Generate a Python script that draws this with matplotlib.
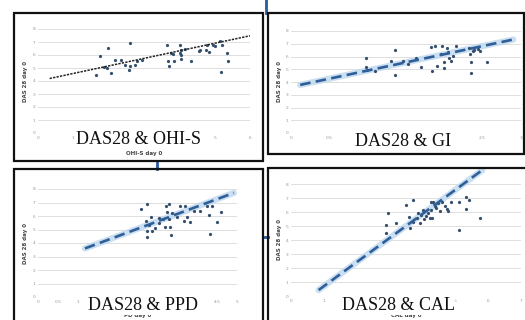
import numpy as np
import matplotlib
matplotlib.use("Agg")
import matplotlib.pyplot as plt
from matplotlib.patches import Rectangle
from matplotlib.lines import Line2D

# ---- data ----
ohi_x = [1.65, 1.75, 1.86, 1.96, 1.98, 2.06, 2.17, 2.34, 2.45, 2.59, 2.57, 2.59, 2.74, 2.79,
         2.93, 3.66, 3.69, 3.71, 3.76, 3.83, 3.86, 4.02, 4.02, 4.05, 4.06, 4.16, 4.06, 4.33,
         4.56, 4.58, 4.75, 4.79, 4.84, 4.96, 5.0, 5.15, 5.17, 5.2, 5.34, 5.37]
ohi_y = [4.46, 5.94, 5.1, 4.98, 6.53, 4.6, 5.63, 5.63, 5.24, 6.92, 4.85, 5.16, 5.24, 5.55,
         5.63, 6.8, 5.57, 5.16, 6.19, 6.06, 5.57, 6.8, 6.14, 5.68, 6.4, 6.45, 6.0, 5.55,
         6.27, 6.4, 6.4, 6.8, 6.22, 6.8, 6.66, 7.05, 4.72, 6.8, 6.14, 5.55]

gi_x = [0.98, 0.98, 0.995, 1.1, 1.31, 1.35, 1.35, 1.46, 1.53, 1.63, 1.7, 1.82, 1.84, 1.88,
        1.9, 1.95, 1.97, 2.0, 2.0, 2.03, 2.05, 2.06, 2.09, 2.11, 2.15, 2.32, 2.34, 2.35,
        2.35, 2.39, 2.44, 2.46, 2.56, 2.37]
gi_y = [5.88, 5.15, 4.96, 4.88, 5.62, 6.49, 4.56, 5.62, 5.44, 5.88, 5.15, 6.73, 4.83, 6.86,
        5.22, 6.2, 6.86, 5.09, 5.54, 6.68, 6.33, 5.88, 5.62, 6.02, 6.8, 6.68, 6.23, 5.54,
        4.7, 6.54, 6.6, 6.41, 5.54, 6.41]

ppd_x = [2.6, 2.73, 2.71, 2.73, 2.73, 2.8, 2.83, 2.86, 2.94, 3.03, 3.05, 3.15, 3.19, 3.21,
         3.24, 3.28, 3.28, 3.32, 3.34, 3.36, 3.49, 3.57, 3.7, 3.68, 3.74, 3.81, 4.08, 4.24,
         4.29, 4.31, 4.37, 4.5, 4.6, 3.91]
ppd_y = [6.51, 6.9, 5.64, 4.89, 4.47, 5.34, 5.91, 4.92, 5.09, 5.84, 5.47, 5.76, 5.22, 6.71,
         6.26, 6.9, 5.76, 5.22, 4.6, 6.21, 5.96, 6.71, 6.71, 5.66, 5.96, 5.52, 6.34, 6.71,
         6.09, 4.67, 6.71, 5.52, 6.29, 6.34]

cal_x = [2.89, 2.89, 2.96, 3.19, 3.49, 3.7, 3.6, 3.62, 3.72, 3.82, 3.87, 3.92, 3.97, 4.02,
         4.05, 4.12, 4.17, 4.22, 4.27, 4.32, 4.27, 4.3, 4.37, 4.42, 4.47, 4.53, 4.6, 4.68,
         4.76, 4.78, 4.88, 5.11, 5.11, 5.33, 5.33, 5.43, 5.74]
cal_y = [5.08, 4.49, 5.92, 5.25, 6.52, 6.87, 5.63, 4.84, 5.32, 5.56, 5.92, 5.2, 5.8, 6.16,
         5.49, 5.68, 5.92, 5.56, 6.75, 6.75, 6.16, 5.56, 6.44, 6.28, 6.63, 6.04, 6.68, 6.44,
         6.21, 6.04, 6.68, 6.68, 4.73, 7.04, 6.21, 6.87, 5.56]

# trendlines: (x start, x end, intercept, slope)
ohi_trend = (0.33, 6.0, 4.0, 0.58)
gi_trend = (0.12, 2.9, 3.62, 1.28)
ppd_trend = (1.18, 4.92, 2.3, 1.1)
cal_trend = (0.84, 5.82, -1.02, 1.72)

titles = ["DAS28 & OHI-S", "DAS28 & GI", "DAS28 & PPD", "DAS28 & CAL"]
xlabels = ["OHI-S day 0", "GI day 0", "PD day 0", "CAL day 0"]
ylabel = "DAS 28 day 0"
xticks_list = [[0, 1, 2, 3, 4, 5, 6],
               [0, 0.5, 1, 1.5, 2, 2.5, 3],
               [0, 0.5, 1, 1.5, 2, 2.5, 3, 3.5, 4, 4.5, 5],
               [0, 1, 2, 3, 4, 5, 6, 7]]
yticks = [0, 1, 2, 3, 4, 5, 6, 7, 8]

W, H = 525, 320
fig = plt.figure(figsize=(W / 100, H / 100), dpi=100)


def fx(px):
    return px / W


def fy(py):
    return 1 - py / H


# panel boxes in pixels: left, top, right, bottom
boxes = [(14, 13, 263, 161), (268, 13, 524, 154), (14, 169, 263, 330), (268, 168, 530, 330)]
# plot areas: x at 0, x at max, y at 8, y at 0
areas = [(38, 250, 29, 133), (291, 521, 31, 133), (38, 237, 189, 297), (291, 521, 184, 296)]
title_pos = [(138, 140), (403, 141), (143, 306), (398, 306)]
xlabel_y = [154, 148, 316, 315]
ylabel_x = [25, 279, 25, 279]

data = [(ohi_x, ohi_y, ohi_trend), (gi_x, gi_y, gi_trend),
        (ppd_x, ppd_y, ppd_trend), (cal_x, cal_y, cal_trend)]

for i in range(4):
    l, t, r, b = boxes[i]
    fig.patches.append(Rectangle((fx(l), fy(b)), fx(r) - fx(l), fy(t) - fy(b),
                                 transform=fig.transFigure, fill=False,
                                 edgecolor="#111111", lw=1.6, zorder=5))
    x0, x1, y8, y0 = areas[i]
    ax = fig.add_axes([fx(x0), fy(y0), fx(x1) - fx(x0), fy(y8) - fy(y0)])
    xs, ys, tr = data[i]
    xt = xticks_list[i]
    ax.set_xlim(xt[0], xt[-1])
    ax.set_ylim(0, 8)
    ax.set_xticks(xt)
    ax.set_xticklabels([("%g" % v) for v in xt])
    ax.set_yticks(yticks)
    ax.tick_params(length=0, labelsize=3.2, labelcolor="#999999", pad=2)
    for s in ax.spines.values():
        s.set_visible(False)
    ax.grid(axis="y", color="#d9d9d9", lw=0.6)
    ax.set_axisbelow(True)

    ax.plot(xs, ys, "o", ms=1.3, color="#34506e", zorder=3)
    xa, xb, c0, c1 = tr
    tx = np.array([xa, xb])
    ty = c0 + c1 * tx
    if i == 0:
        ax.plot(tx, ty, color="#222222", lw=1.1, ls=(0, (1.5, 0.8)), zorder=4)
    else:
        ax.plot(tx, ty, color="#bdd7ee", lw=4.5, alpha=0.8, zorder=2,
                solid_capstyle="round", clip_on=False)
        ax.plot(tx, ty, color="#2f5f99", lw=1.9, ls=(0, (4, 2)), zorder=4, clip_on=False)

    fig.text(fx((x0 + x1) / 2), fy(xlabel_y[i]), xlabels[i], ha="center", va="center",
             fontsize=4, fontweight="bold", color="#444444", zorder=5)
    fig.text(fx(ylabel_x[i]), fy((y8 + y0) / 2), ylabel, ha="center", va="center",
             rotation=90, fontsize=4, fontweight="bold", color="#444444")
    # the panel title sits on a white patch that hides the ticks below it
    fig.text(fx(title_pos[i][0]), fy(title_pos[i][1]), titles[i], ha="center", va="center",
             fontsize=13, family="Liberation Serif", color="#111111", zorder=6,
             bbox=dict(facecolor="white", edgecolor="none", pad=0.5))

# blue connectors between the boxes
conn = "#2a5aa0"
for (xa, ya, xb, yb) in [(265.5, 0, 265.5, 13), (157, 161, 157, 169), (263, 237, 268, 237)]:
    fig.add_artist(Line2D([fx(xa), fx(xb)], [fy(ya), fy(yb)], color=conn, lw=2,
                          transform=fig.transFigure))

fig.savefig("out.png", dpi=100)
